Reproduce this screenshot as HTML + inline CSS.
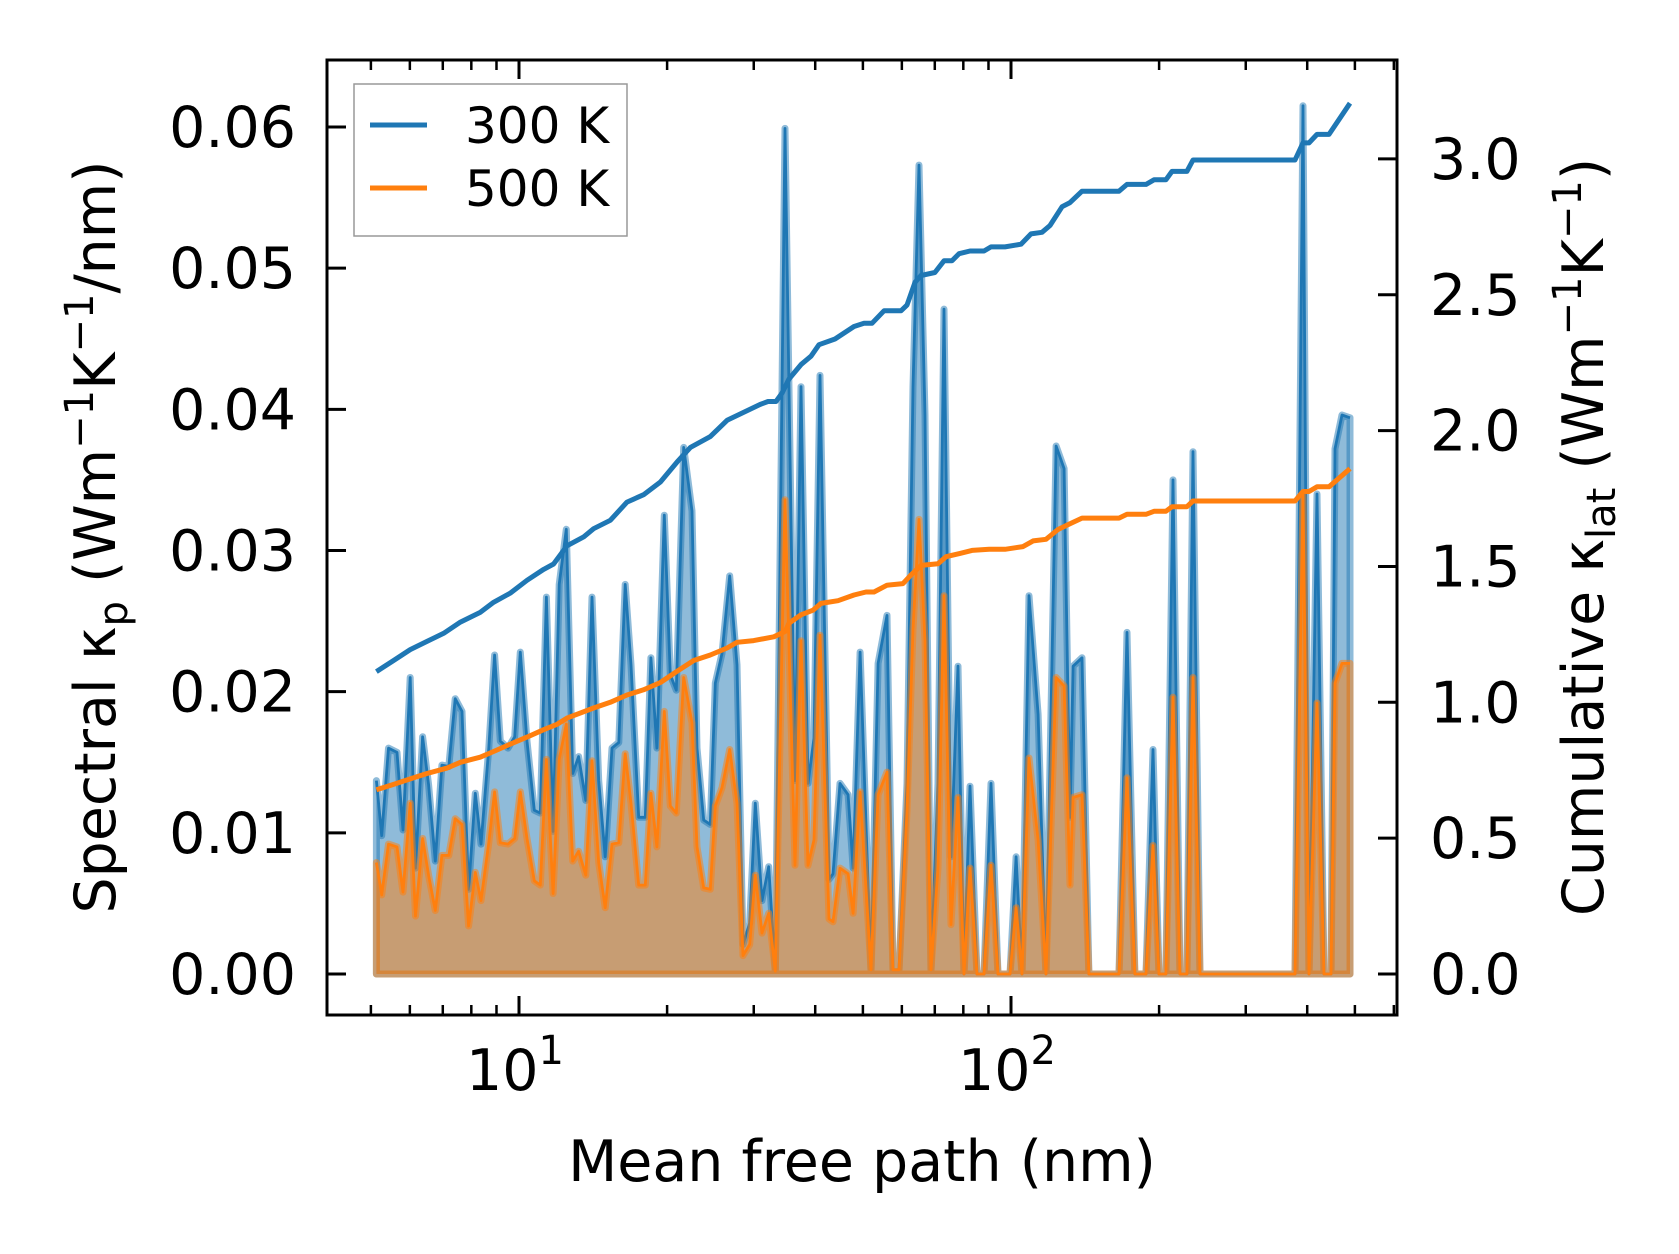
<!DOCTYPE html>
<html><head><meta charset="utf-8"><style>
html,body{margin:0;padding:0;background:#fff;}
svg{display:block;font-family:"DejaVu Sans","Liberation Sans",sans-serif;}
</style></head><body>
<svg id="chart" width="1679" height="1254" viewBox="0 0 1679 1254" xmlns="http://www.w3.org/2000/svg">
<g id="plot"></g>
<g id="axes"></g>
<text x="862" y="1181" font-size="57" text-anchor="middle">Mean free path (nm)</text>
<text transform="translate(115,537) rotate(-90)" font-size="57" text-anchor="middle">Spectral κ<tspan font-size="40" dy="12">p</tspan><tspan dy="-12"> (Wm</tspan><tspan font-size="40" dy="-22">−1</tspan><tspan dy="22">K</tspan><tspan font-size="40" dy="-22">−1</tspan><tspan dy="22">/nm)</tspan></text>
<text transform="translate(1603,537) rotate(-90)" font-size="57" text-anchor="middle">Cumulative κ<tspan font-size="40" dy="12">lat</tspan><tspan dy="-12"> (Wm</tspan><tspan font-size="40" dy="-22">−1</tspan><tspan dy="22">K</tspan><tspan font-size="40" dy="-22">−1</tspan><tspan dy="22">)</tspan></text>
<g>
<rect x="354" y="84" width="273" height="152" fill="#fff" fill-opacity="0.8" stroke="#999" stroke-width="1.5"/>
<line x1="370" y1="125" x2="427" y2="125" stroke="#1f77b4" stroke-width="5"/>
<text x="465" y="143" font-size="50">300 K</text>
<line x1="370" y1="188" x2="427" y2="188" stroke="#ff7f0e" stroke-width="5"/>
<text x="465" y="206" font-size="50">500 K</text>
</g>
</svg>
<script>
// ---- data ----
const specMfp = [5.13,5.26,5.43,5.65,5.81,6.01,6.16,6.37,6.55,6.76,6.97,7.20,7.42,7.66,7.90,8.15,8.37,8.68,8.92,9.16,9.50,9.80,10.06,10.38,10.74,11.05,11.37,11.73,12.07,12.48,12.86,13.22,13.67,14.07,14.52,14.97,15.45,15.95,16.44,16.89,17.51,18.06,18.54,19.07,19.74,20.30,20.88,21.62,22.47,23.00,23.74,24.48,25.06,25.86,26.81,27.74,28.53,29.44,30.22,31.18,32.18,33.19,34.73,36.39,37.42,38.67,39.78,40.91,42.67,43.48,44.93,46.65,47.75,49.34,51.94,53.68,55.98,57.57,59.21,61.46,63.21,65.01,66.86,68.77,71.06,73.09,75.51,78.04,80.26,82.55,85.30,88.14,91.07,94.10,96.78,99.54,102.4,105.3,108.8,113.5,117.8,123.5,128.2,131.8,133.7,139.4,144.0,165.8,172.1,178.6,188.1,194.4,199.9,206.5,213.4,220.5,227.8,234.4,242.2,377.7,392.2,403.4,418.8,432.7,447.1,455.5,470.8,488.7];
const spec300 = [1.37,0.98,1.60,1.57,1.02,2.10,0.75,1.68,1.34,0.80,1.48,1.47,1.95,1.86,0.60,1.28,0.92,1.60,2.26,1.65,1.60,1.68,2.28,1.65,1.16,1.14,2.67,1.01,2.76,3.15,1.42,1.54,1.23,2.67,1.37,0.83,1.60,1.64,2.76,2.19,1.11,1.11,2.24,1.60,3.25,2.12,2.01,3.73,3.28,1.60,1.09,1.06,2.06,2.27,2.82,2.19,0.21,0.36,1.21,0.52,0.76,0.02,5.99,1.37,4.16,1.35,1.67,4.24,0.67,0.71,1.35,1.27,0.75,2.28,0.03,2.20,2.54,0.03,0.03,1.35,4.16,5.73,3.96,0.03,1.35,4.71,0.83,2.18,0.0,1.33,0.0,0.0,1.35,0.0,0.0,0.0,0.83,0.0,2.68,1.84,0.0,3.74,3.58,1.11,2.18,2.24,0.0,0.0,2.42,0.0,0.0,1.59,0.0,0.0,3.50,0.0,0.0,3.70,0.0,0.0,6.15,0.0,3.40,0.0,0.0,3.72,3.96,3.94];
const spec500 = [0.79,0.56,0.92,0.90,0.58,1.21,0.41,0.96,0.70,0.45,0.84,0.84,1.10,1.06,0.34,0.72,0.52,0.93,1.29,0.93,0.92,0.96,1.29,0.96,0.66,0.63,1.52,0.57,1.52,1.77,0.80,0.87,0.70,1.51,0.79,0.47,0.92,0.93,1.56,1.21,0.63,0.63,1.28,0.90,1.86,1.19,1.14,2.10,1.78,0.90,0.61,0.60,1.19,1.32,1.59,1.21,0.13,0.21,0.70,0.29,0.43,0.02,3.36,0.77,2.36,0.77,0.95,2.40,0.39,0.37,0.75,0.71,0.43,1.29,0.03,1.27,1.43,0.03,0.03,1.15,2.44,3.22,2.36,0.03,0.75,2.68,0.35,1.25,0.0,0.75,0.0,0.0,0.77,0.0,0.0,0.0,0.47,0.0,1.53,0.95,0.0,2.10,2.04,0.63,1.25,1.27,0.0,0.0,1.39,0.0,0.0,0.91,0.0,0.0,1.96,0.0,0.0,2.10,0.0,0.0,3.40,0.0,1.92,0.0,0.0,2.06,2.20,2.20];
const cum300Mfp = [5.13,5.56,6.01,6.50,7.03,7.60,8.34,8.88,9.60,10.38,11.22,11.76,12.52,13.54,14.18,15.33,16.58,17.92,19.38,20.95,22.30,24.48,26.48,30.89,32.07,33.29,34.24,35.38,37.42,39.22,40.72,43.89,47.97,50.26,52.18,55.19,59.76,61.46,63.81,65.62,70.04,73.09,75.87,78.41,82.55,88.14,91.07,97.23,104.8,109.8,115.6,120.0,127.0,131.8,139.4,165.8,172.1,188.1,195.3,206.5,212.4,227.8,234.4,377.7,392.2,403.4,418.8,442.9,488.7];
const cum300 = [1.113,1.154,1.194,1.224,1.254,1.295,1.331,1.368,1.402,1.449,1.489,1.509,1.576,1.609,1.639,1.670,1.737,1.764,1.811,1.884,1.938,1.978,2.038,2.096,2.107,2.107,2.138,2.19,2.243,2.274,2.316,2.337,2.383,2.395,2.395,2.441,2.441,2.462,2.546,2.571,2.582,2.625,2.625,2.651,2.661,2.661,2.676,2.676,2.686,2.724,2.730,2.755,2.824,2.839,2.881,2.881,2.906,2.906,2.923,2.923,2.954,2.954,2.996,2.996,3.059,3.059,3.090,3.090,3.205];
const cum500Mfp = [5.13,5.56,6.01,6.50,7.14,7.60,8.34,8.88,9.60,10.38,11.22,11.95,12.52,14.18,15.33,16.58,17.92,19.38,20.95,22.65,24.48,26.48,27.74,29.99,32.95,34.78,35.38,37.42,39.59,41.10,44.51,47.97,50.74,52.66,55.98,60.33,62.62,65.62,71.06,73.78,78.77,83.31,90.24,97.23,105.8,110.9,117.8,124.6,131.8,139.4,165.8,172.1,188.1,195.3,206.5,212.4,227.8,234.4,377.7,392.2,403.4,418.8,442.9,488.7];
const cum500 = [0.678,0.698,0.718,0.738,0.758,0.779,0.798,0.819,0.846,0.872,0.899,0.919,0.942,0.979,1.000,1.027,1.046,1.073,1.114,1.154,1.174,1.200,1.221,1.227,1.241,1.261,1.291,1.322,1.339,1.364,1.374,1.395,1.406,1.406,1.431,1.437,1.469,1.504,1.510,1.536,1.548,1.559,1.563,1.563,1.573,1.594,1.600,1.636,1.657,1.678,1.678,1.692,1.692,1.703,1.703,1.720,1.720,1.741,1.741,1.776,1.776,1.793,1.793,1.860];
const leftTicks = [0,0.01,0.02,0.03,0.04,0.05,0.06];
const leftTickLabels = ["0.00","0.01","0.02","0.03","0.04","0.05","0.06"];
const rightTicks = [0,0.5,1.0,1.5,2.0,2.5,3.0];
const rightTickLabels = ["0.0","0.5","1.0","1.5","2.0","2.5","3.0"];
const xMajor = [10,100];
const xMinor = [5,6,7,8,9,20,30,40,50,60,70,80,90,200,300,400,500,600];

// ---- axes functions ----
const L=327,R=1397,T=60,B=1015;
const xs = m => 519 + (Math.log10(m)-1)*492;
const yl = v => 974 - v*14117;
const yr = v => 974 - v*271.7;
const NS="http://www.w3.org/2000/svg";
function mk(tag, attrs, parent){const e=document.createElementNS(NS,tag);for(const k in attrs)e.setAttribute(k,attrs[k]);parent.appendChild(e);return e;}
const plot=document.getElementById('plot'), axes=document.getElementById('axes');

function areaPath(xsArr, ys){
  let d='M'+xs(xsArr[0]).toFixed(1)+','+yl(0).toFixed(1);
  for(let i=0;i<xsArr.length;i++) d+=' L'+xs(xsArr[i]).toFixed(1)+','+yl(ys[i]/100).toFixed(1);
  d+=' L'+xs(xsArr[xsArr.length-1]).toFixed(1)+','+yl(0).toFixed(1)+' Z';
  return d;
}
function linePath(xsArr, ys, fy){
  let d='';
  for(let i=0;i<xsArr.length;i++) d+=(i?' L':'M')+xs(xsArr[i]).toFixed(1)+','+fy(ys[i]).toFixed(1);
  return d;
}
let e;
e=mk('path',{d:areaPath(specMfp,spec300),fill:'#1f77b4','fill-opacity':0.5,stroke:'#1f77b4','stroke-opacity':0.5,'stroke-width':7,'stroke-linejoin':'round'},plot);


e=mk('path',{d:linePath(specMfp,spec300,v=>yl(v/100)),fill:'none',stroke:'#1f77b4','stroke-width':2.8,'stroke-linejoin':'round'},plot);


e=mk('path',{d:areaPath(specMfp,spec500),fill:'#ff7f0e','fill-opacity':0.5,stroke:'#ff7f0e','stroke-opacity':0.5,'stroke-width':7,'stroke-linejoin':'round'},plot);


e=mk('path',{d:linePath(specMfp,spec500,v=>yl(v/100)),fill:'none',stroke:'#ff7f0e','stroke-width':2.8,'stroke-linejoin':'round'},plot);


e=mk('path',{d:linePath(cum300Mfp,cum300,yr),fill:'none',stroke:'#1f77b4','stroke-width':5,'stroke-linejoin':'round'},plot);


e=mk('path',{d:linePath(cum500Mfp,cum500,yr),fill:'none',stroke:'#ff7f0e','stroke-width':5,'stroke-linejoin':'round'},plot);



e=mk('rect',{x:L,y:T,width:R-L,height:B-T,fill:'none',stroke:'#000','stroke-width':3},axes);


leftTicks.forEach((v,i)=>{
  const y=yl(v);
  e=mk('line',{x1:L,y1:y,x2:L+19,y2:y,stroke:'#000','stroke-width':3},axes);
  
  
  e=mk('text',{x:296,y:y+20,'font-size':57,'text-anchor':'end'},axes);
  e.textContent=leftTickLabels[i];
  
  
});
rightTicks.forEach((v,i)=>{
  const y=yr(v);
  e=mk('line',{x1:R-19,y1:y,x2:R,y2:y,stroke:'#000','stroke-width':3},axes);
  
  
  e=mk('text',{x:1430,y:y+20,'font-size':57,'text-anchor':'start'},axes);
  e.textContent=rightTickLabels[i];
  
  
});
xMajor.forEach((m,i)=>{
  const x=xs(m);
  e=mk('line',{x1:x,y1:B,x2:x,y2:B-19,stroke:'#000','stroke-width':3},axes);
  
  
  e=mk('line',{x1:x,y1:T,x2:x,y2:T+19,stroke:'#000','stroke-width':3},axes);
  
  
  e=mk('text',{x:x-4,y:1090,'font-size':57,'text-anchor':'middle'},axes);
  
  
  e.innerHTML='10<tspan font-size="40" dy="-26">'+(i+1)+'</tspan>';
});
xMinor.forEach(m=>{
  const x=xs(m);
  if(x<L||x>R) return;
  e=mk('line',{x1:x,y1:B,x2:x,y2:B-10,stroke:'#000','stroke-width':2.5},axes);
  
  
  e=mk('line',{x1:x,y1:T,x2:x,y2:T+10,stroke:'#000','stroke-width':2.5},axes);
  
  
});
</script>
</body></html>
